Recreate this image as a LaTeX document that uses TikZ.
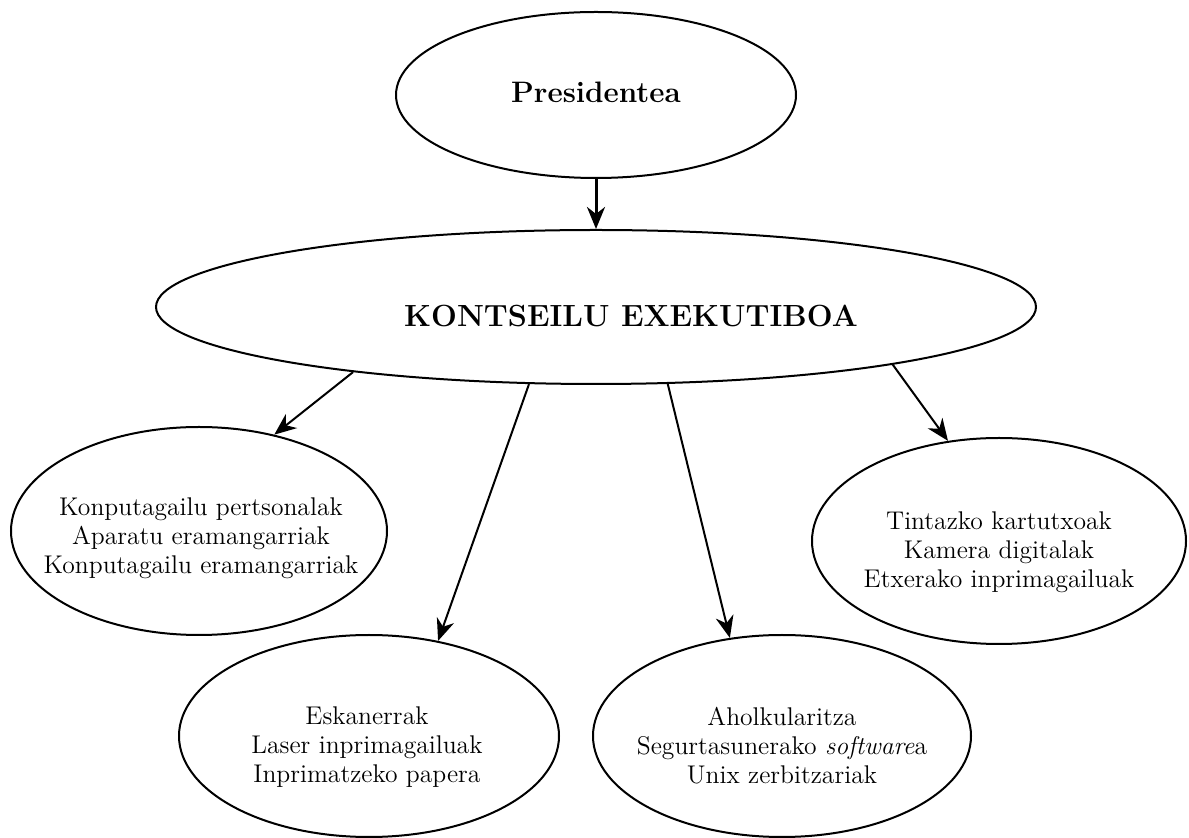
\documentclass[tikz,border=0pt]{standalone}
\usetikzlibrary{shapes.geometric,arrows.meta}
\begin{document}
\begin{tikzpicture}[x=0.5pt, y=-0.5pt,
  box/.style={draw, ellipse, line width=1pt, inner sep=0pt},
  txt/.style={draw=none, align=center, font=\fontsize{12.8}{14.5}\selectfont},
  head/.style={draw=none, font=\fontsize{14.8}{17}\selectfont\bfseries},
  arr/.style={-{Stealth[length=11pt, width=9pt, inset=3.5pt]}, line width=1pt}]

\useasboundingbox (0,0) rectangle (1189,838);

\node[box, minimum width=200pt, minimum height=83pt] (pres) at (596,95) {};
\node[head] (prestxt) at (596,92) {Presidentea};

\node[box, minimum width=440pt, minimum height=77pt] (kont) at (596,307) {};
\node[head, font=\fontsize{15.3}{17}\selectfont\bfseries] (konttxt) at (631,316) {KONTSEILU EXEKUTIBOA};

\node[box, minimum width=188pt, minimum height=104pt] (pc) at (199,531) {};
\node[txt] (pctxt) at (201,538) {Konputagailu pertsonalak\\Aparatu eramangarriak\\Konputagailu eramangarriak};

\node[box, minimum width=190pt, minimum height=101pt] (esk) at (369,736) {};
\node[txt] (esktxt) at (367,747) {Eskanerrak\\Laser inprimagailuak\\Inprimatzeko papera};

\node[box, minimum width=189pt, minimum height=101pt] (aho) at (782,736) {};
\node[txt] (ahotxt) at (782,746) {Aholkularitza\\Segurtasunerako \textit{software}a\\Unix zerbitzariak};

\node[box, minimum width=187pt, minimum height=103pt] (tin) at (999,541) {};
\node[txt] (tintxt) at (999,552) {Tintazko kartutxoak\\Kamera digitalak\\Etxerako inprimagailuak};

\draw[arr, line width=1.5pt] (pres) -- (kont);
\draw[arr] (kont.195) -- (pc.52);
\draw[arr] (kont.229) -- (esk.54);
\draw[arr] (kont.313) -- (aho.118);
\draw[arr] (kont.349) -- (tin.117);

\end{tikzpicture}
\end{document}
